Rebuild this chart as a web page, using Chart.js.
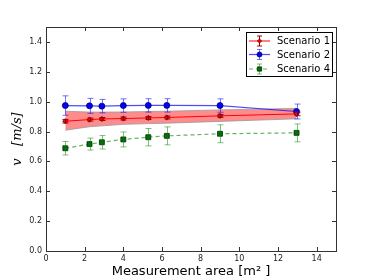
<!DOCTYPE html>
<html>
<head>
<meta charset="utf-8">
<script src="https://cdn.jsdelivr.net/npm/chart.js@4"></script>
<style>
  body { margin: 0; background: #fff; }
</style>
</head>
<body>
<canvas id="chart" width="374" height="280"></canvas>
<script>
// measurement areas (m^2)
var areas = [1, 2.25, 2.89, 4, 5.29, 6.25, 9, 12.96];

var s1 = [0.869, 0.880, 0.884, 0.887, 0.891, 0.894, 0.905, 0.918];
var s1Err = [0.012, 0.01, 0.01, 0.01, 0.01, 0.01, 0.01, 0.012];
var s1Upper = [0.936, 0.930, 0.930, 0.931, 0.934, 0.936, 0.945, 0.955];
var s1Lower = [0.809, 0.832, 0.838, 0.848, 0.853, 0.856, 0.868, 0.885];

var s2 = [0.974, 0.972, 0.970, 0.974, 0.975, 0.975, 0.974, 0.934];
var s2Err = [0.065, 0.05, 0.045, 0.045, 0.045, 0.045, 0.045, 0.05];

var s4 = [0.688, 0.716, 0.728, 0.747, 0.762, 0.771, 0.785, 0.791];
var s4Err = [0.045, 0.04, 0.045, 0.05, 0.058, 0.06, 0.06, 0.06];

var xTicks = [0, 2, 4, 6, 8, 10, 12, 14];
var yTicks = [0, 0.2, 0.4, 0.6, 0.8, 1.0, 1.2, 1.4];

function pts(ys) {
    return areas.map(function (x, i) { return {x: x, y: ys[i]}; });
}

var errorBars = {
    id: 'errorBars',
    afterDatasetsDraw: function (chart) {
        var ctx = chart.ctx;
        var xs = chart.scales.x, ys = chart.scales.y;
        chart.data.datasets.forEach(function (ds) {
            if (!ds.errs) return;
            ctx.save();
            ctx.strokeStyle = ds.errColor;
            ctx.lineWidth = 1;
            ds.data.forEach(function (p, i) {
                var px = Math.round(xs.getPixelForValue(p.x)) + 0.5;
                var top = ys.getPixelForValue(p.y + ds.errs[i]);
                var bot = ys.getPixelForValue(p.y - ds.errs[i]);
                ctx.beginPath();
                ctx.moveTo(px, top); ctx.lineTo(px, bot);
                ctx.moveTo(px - 3, top); ctx.lineTo(px + 3, top);
                ctx.moveTo(px - 3, bot); ctx.lineTo(px + 3, bot);
                ctx.stroke();
            });
            ctx.restore();
        });
    }
};

var frame = {
    id: 'frame',
    afterDraw: function (chart) {
        var ctx = chart.ctx, a = chart.chartArea;
        var xs = chart.scales.x, ys = chart.scales.y;
        ctx.save();
        ctx.strokeStyle = '#333';
        ctx.lineWidth = 1;
        ctx.strokeRect(Math.round(a.left) + 0.5, Math.round(a.top) + 0.5,
            Math.round(a.right - a.left), Math.round(a.bottom - a.top));
        ctx.beginPath();
        xTicks.forEach(function (v) {
            var px = Math.round(xs.getPixelForValue(v)) + 0.5;
            ctx.moveTo(px, a.bottom); ctx.lineTo(px, a.bottom - 4);
            ctx.moveTo(px, a.top); ctx.lineTo(px, a.top + 4);
        });
        yTicks.forEach(function (v) {
            var py = Math.round(ys.getPixelForValue(v)) + 0.5;
            ctx.moveTo(a.left, py); ctx.lineTo(a.left + 4, py);
            ctx.moveTo(a.right, py); ctx.lineTo(a.right - 4, py);
        });
        ctx.stroke();

        // legend box (upper right, inside plot)
        var bx = 246.5, by = 32.5, bw = 86, bh = 44;
        ctx.fillStyle = '#fff';
        ctx.fillRect(bx, by, bw, bh);
        ctx.strokeStyle = '#000';
        ctx.strokeRect(bx, by, bw, bh);
        var rows = [41, 54.5, 69];
        var k = 0;
        chart.data.datasets.forEach(function (ds) {
            if (!ds.errs) return;
            var ly = rows[k++];
            ctx.save();
            ctx.strokeStyle = ds.borderColor;
            ctx.lineWidth = ds.borderWidth;
            ctx.setLineDash(ds.borderDash || []);
            ctx.beginPath();
            ctx.moveTo(249, ly); ctx.lineTo(270, ly);
            ctx.stroke();
            ctx.setLineDash([]);
            ctx.strokeStyle = ds.errColor;
            ctx.lineWidth = 1;
            ctx.beginPath();
            ctx.moveTo(259.5, ly - 5); ctx.lineTo(259.5, ly + 5);
            ctx.moveTo(257, ly - 5); ctx.lineTo(262, ly - 5);
            ctx.moveTo(257, ly + 5); ctx.lineTo(262, ly + 5);
            ctx.stroke();
            ctx.fillStyle = ds.pointBackgroundColor;
            ctx.strokeStyle = ds.pointBorderColor;
            ctx.lineWidth = ds.pointBorderWidth;
            Chart.helpers.drawPoint(ctx, {
                pointStyle: ds.pointStyle, radius: ds.pointRadius - 0.5, borderWidth: ds.pointBorderWidth
            }, 259.5, ly);
            ctx.restore();
            ctx.fillStyle = '#000';
            ctx.font = '10px "DejaVu Sans"';
            ctx.textBaseline = 'middle';
            ctx.fillText(ds.label, 277, ly + 0.5);
        });
        ctx.restore();
    }
};

var ctx = document.getElementById('chart').getContext('2d');
var chart = new Chart(ctx, {
    type: 'line',
    data: {
        datasets: [
            {
                label: 'Scenario 1', data: pts(s1), errs: s1Err, errColor: '#a00000',
                borderColor: '#ff0000', borderWidth: 1, pointStyle: 'rectRot', pointRadius: 2.6,
                pointBackgroundColor: '#ff0000', pointBorderColor: '#600000', pointBorderWidth: 0.8,
                fill: false, order: 1
            },
            {
                label: 'Scenario 2', data: pts(s2), errs: s2Err, errColor: 'rgba(0,0,255,0.55)',
                borderColor: 'rgba(0,0,255,0.7)', borderWidth: 1.2, pointStyle: 'circle', pointRadius: 3,
                pointBackgroundColor: '#0000ff', pointBorderColor: '#000060', pointBorderWidth: 0.8,
                fill: false, order: 2
            },
            {
                label: 'Scenario 4', data: pts(s4), errs: s4Err, errColor: 'rgba(0,128,0,0.5)',
                borderColor: 'rgba(0,128,0,0.6)', borderWidth: 1.2, borderDash: [4, 3],
                pointStyle: 'rect', pointRadius: 3.5,
                pointBackgroundColor: '#007000', pointBorderColor: '#003000', pointBorderWidth: 0.8,
                fill: false, order: 3
            },
            {
                data: pts(s1Upper), borderColor: '#999', borderWidth: 0.8,
                pointRadius: 0, fill: false, order: 10
            },
            {
                data: pts(s1Lower), borderColor: '#999', borderWidth: 0.8,
                pointRadius: 0, fill: '-1', backgroundColor: 'rgba(255,0,0,0.45)', order: 10
            }
        ]
    },
    options: {
        responsive: false,
        animation: false,
        layout: { padding: { left: 0, right: 38, top: 27, bottom: 0 } },
        plugins: { legend: { display: false }, tooltip: { enabled: false } },
        elements: { line: { tension: 0 } },
        scales: {
            x: {
                type: 'linear', min: 0, max: 15,
                afterBuildTicks: function (s) { s.ticks = xTicks.map(function (v) { return {value: v}; }); },
                afterFit: function (s) { s.height = 29; },
                grid: { display: false, drawTicks: false },
                border: { display: false },
                ticks: { padding: 3, color: '#222', font: { family: 'DejaVu Sans', size: 8 }, maxRotation: 0 },
                title: {
                    display: true, text: 'Measurement area [m\u00b2 ]', color: '#000',
                    font: { family: 'DejaVu Sans', size: 13 }, padding: { top: 0, bottom: 1 }
                }
            },
            y: {
                min: 0, max: 1.5,
                afterBuildTicks: function (s) { s.ticks = yTicks.map(function (v) { return {value: v}; }); },
                afterFit: function (s) { s.width = 46; },
                grid: { display: false, drawTicks: false },
                border: { display: false },
                ticks: {
                    padding: 4, color: '#222', font: { family: 'DejaVu Sans', size: 8 },
                    callback: function (v) { return v.toFixed(1); }
                },
                title: {
                    display: true, text: 'v   [m/s]', color: '#000',
                    font: { family: 'DejaVu Serif', size: 13, style: 'italic' }, padding: { top: 10, bottom: 0 }
                }
            }
        }
    },
    plugins: [errorBars, frame]
});
</script>
</body>
</html>
